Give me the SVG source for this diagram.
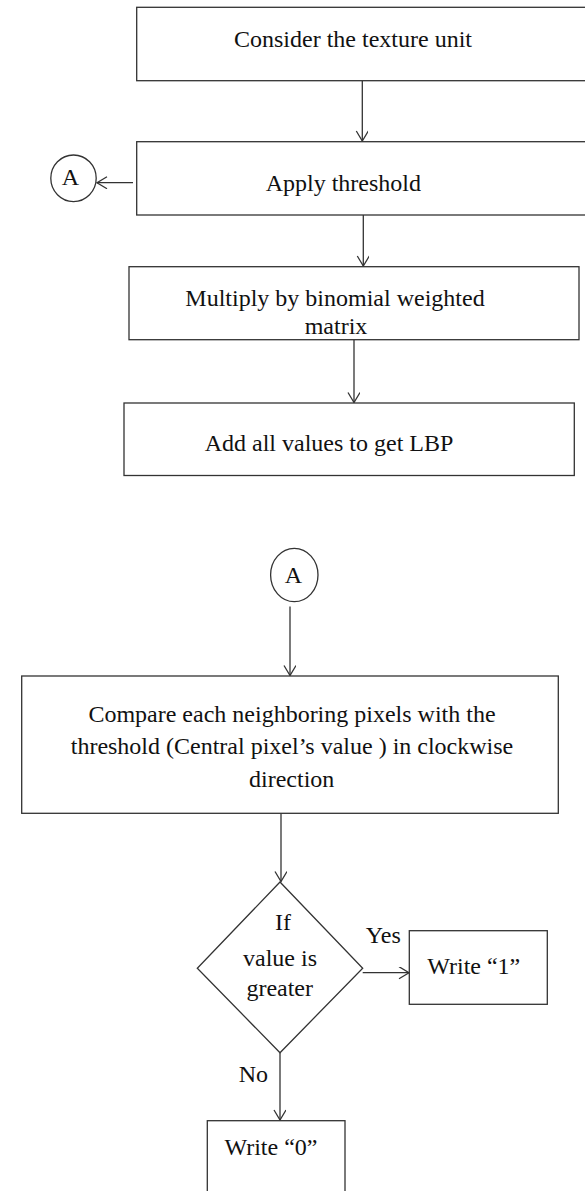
<svg xmlns="http://www.w3.org/2000/svg" width="585" height="1191" viewBox="0 0 585 1191">
<style>
.b{fill:#fff;stroke:#333;stroke-width:1.3}
.t{font-family:"Liberation Serif","Times New Roman",serif;font-size:24px;fill:#111;text-anchor:middle}
.c{fill:none;stroke:#333;stroke-width:1.3;marker-end:url(#ah)}
</style>
<defs>
<marker id="ah" markerUnits="userSpaceOnUse" markerWidth="14" markerHeight="14" refX="11" refY="6" orient="auto">
<path d="M1,0 L11,6 L1,12" fill="none" stroke="#333" stroke-width="1.3"/>
</marker>
</defs>
<rect width="585" height="1191" fill="#fff"/>
<g id="connectors">
<line class="c" x1="362.3" y1="80.7" x2="362.3" y2="141"/>
<line class="c" x1="133" y1="182.7" x2="97" y2="182.7"/>
<line class="c" x1="363.3" y1="215" x2="363.3" y2="266"/>
<line class="c" x1="354" y1="339.7" x2="354" y2="402.5"/>
<line class="c" x1="290" y1="606.5" x2="290" y2="675.5"/>
<line class="c" x1="281" y1="813.3" x2="281" y2="881.5"/>
<line class="c" x1="362.7" y1="972.7" x2="409" y2="972.7"/>
<line class="c" x1="280" y1="1052.7" x2="280" y2="1120"/>
</g>
<g id="n1"><rect class="b" x="136.7" y="7.3" width="470" height="73.4"/><text class="t" x="353" y="47">Consider the texture unit</text></g>
<g id="n2"><rect class="b" x="136.7" y="141.7" width="470" height="73.3"/><text class="t" x="343.3" y="190.5">Apply threshold</text></g>
<g id="a1"><ellipse class="b" cx="73.5" cy="178.3" rx="22.7" ry="23.3"/><text class="t" x="70.5" y="185">A</text></g>
<g id="n3"><rect class="b" x="129" y="266.7" width="450" height="73"/><text class="t" x="335" y="305.7">Multiply by binomial weighted</text><text class="t" x="336" y="334.3">matrix</text></g>
<g id="n4"><rect class="b" x="124" y="403" width="450.3" height="72.5"/><text class="t" x="329" y="451">Add all values to get LBP</text></g>
<g id="a2"><ellipse class="b" cx="294.3" cy="575" rx="23.7" ry="26.7"/><text class="t" x="293.3" y="582.7">A</text></g>
<g id="n5"><rect class="b" x="21.7" y="676" width="536.6" height="137.3"/><text class="t" x="292" y="721.7">Compare each neighboring pixels with the</text><text class="t" x="292" y="754">threshold (Central pixel’s value ) in clockwise</text><text class="t" x="291.7" y="786.7">direction</text></g>
<g id="d1"><polygon class="b" points="280,882 362.7,968.3 280,1052.7 197.3,968.3"/><text class="t" x="283" y="930">If</text><text class="t" x="280" y="966">value is</text><text class="t" x="279.7" y="996">greater</text></g>
<g id="lbl"><text class="t" x="383.3" y="942.7">Yes</text><text class="t" x="253.3" y="1081.7">No</text></g>
<g id="n6"><rect class="b" x="409.3" y="930.7" width="138" height="73.6"/><text class="t" x="473.8" y="974">Write “1”</text></g>
<g id="n7"><rect class="b" x="207.3" y="1120.7" width="137.7" height="90"/><text class="t" x="271" y="1155">Write “0”</text></g>
</svg>
